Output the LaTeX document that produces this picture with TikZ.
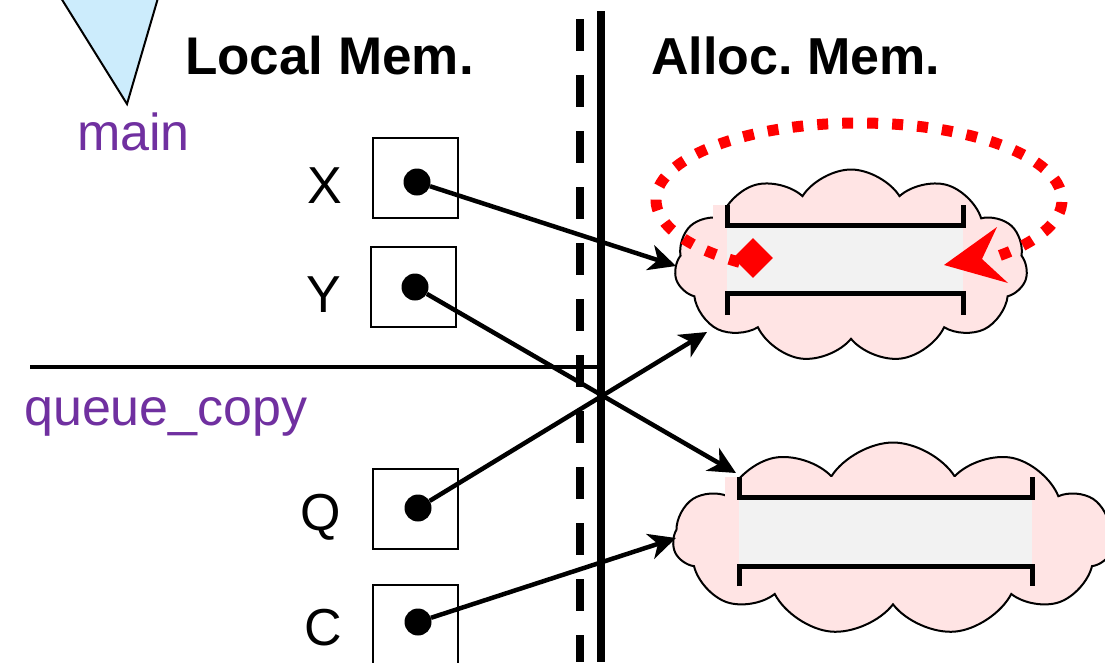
\documentclass[tikz,border=0pt]{standalone}
\usepackage{fontspec}
\setmainfont{Liberation Sans}
\usetikzlibrary{shapes.symbols,shapes.geometric,arrows.meta}
\definecolor{purp}{HTML}{7030A0}
\definecolor{pinkfill}{HTML}{FFE4E4}
\definecolor{grayfill}{HTML}{F2F2F2}
\definecolor{tri}{HTML}{CCECFC}
\frenchspacing
\tikzset{
  big/.style={font=\fontsize{52}{60}\selectfont},
  lbl/.style={big, inner sep=0pt, anchor=base west},
  varbox/.style={draw=black, line width=2pt, minimum width=85pt, minimum height=80pt, inner sep=0pt},
  ptr/.style={circle, fill=black, minimum size=27pt, inner sep=0pt},
  cloudy/.style={cloud, cloud puffs=11, cloud puff arc=115, draw=black, line width=2pt, fill=pinkfill, inner sep=0pt},
  link/.style={line width=4.5pt, -{Stealth[length=27pt,width=26pt,inset=8pt]}},
  bracket/.style={line width=5pt, line cap=butt},
}
\begin{document}
\begin{tikzpicture}[x=1pt,y=-1pt]
\useasboundingbox (0,0) rectangle (1105,662);
% triangle
\fill[tri] (62,-2) -- (127,104) -- (157,-2) -- cycle;
\draw[line width=2pt, line join=miter] (61,-2) -- (127,104) -- (158,-2);
\node[lbl, text=purp] (main) at (77,150) {main};
\node[lbl, text=purp] (qc) at (24,425) {queue\_copy};
\node[lbl, font=\fontsize{53}{60}\selectfont\bfseries] (lm) at (185,74) {Local Mem.};
\node[lbl, font=\fontsize{52}{60}\selectfont\bfseries] (am) at (651,74) {Alloc. Mem.};
% separators
\coordinate (hl1) at (30,367);
\coordinate (hl2) at (605,367);
\draw[line width=4.5pt] (hl1) -- (hl2);
\coordinate (dv1) at (580,19);
\coordinate (dv2) at (580,662);
\draw[line width=8pt, dash pattern=on 32pt off 24pt] (dv1) -- (dv2);
\coordinate (sv1) at (601,11);
\coordinate (sv2) at (601,662);
\draw[line width=8pt] (sv1) -- (sv2);
% variable boxes
\node[varbox] (bx) at (415,178) {};
\node[varbox] (by) at (413,287) {};
\node[varbox] (bq) at (415,509) {};
\node[varbox] (bc) at (415,625) {};
\node[big, inner sep=0pt, anchor=base] (lx) at (325,203) {X};
\node[big, inner sep=0pt, anchor=base] (ly) at (324,312) {Y};
\node[big, inner sep=0pt, anchor=base] (lq) at (321,530) {Q};
\node[big, inner sep=0pt, anchor=base] (lc) at (323,645) {C};
\node[ptr] (dx) at (417,182) {};
\node[ptr] (dy) at (415,287) {};
\node[ptr] (dq) at (418,508) {};
\node[ptr] (dc) at (418,622) {};
% clouds
\node[cloudy, minimum width=353pt, minimum height=193pt] (c1) at (851,266) {};
\node[cloudy, minimum width=440pt, minimum height=193pt] (c2) at (893,539) {};
% cloud 1 contents
\fill[pinkfill] (713,205) rectangle (966,315);
\fill[grayfill] (727,227) rectangle (963,291);
\draw[bracket] (727,205) -- (727,225) -- (963,225) -- (963,205);
\draw[bracket] (727,315) -- (727,293) -- (963,293) -- (963,315);
% cloud 2 contents
\fill[pinkfill] (725,477) rectangle (1035,587);
\fill[grayfill] (739,499) rectangle (1032,564);
\draw[bracket] (739,477) -- (739,497) -- (1032,497) -- (1032,477);
\draw[bracket] (739,586) -- (739,566) -- (1032,566) -- (1032,586);
% pointer links
\coordinate (tx) at (676,266);
\coordinate (ty) at (736,473);
\coordinate (tq) at (707,332);
\coordinate (tc) at (676,538);
\draw[link] (dx) -- (tx);
\draw[link] (dy) -- (ty);
\draw[link] (dq) -- (tq);
\draw[link] (dc) -- (tc);
% red cycle
\coordinate (ec) at (859,200);
\draw[red, line width=11pt, dash pattern=on 11pt off 14pt]
  ([shift={(126:203 and 77)}]ec) arc[start angle=126, end angle=408, x radius=203, y radius=77];
\fill[red] (944,265) -- (997,227) -- (982,259) -- (1008,283) -- cycle;
\node[diamond, fill=red, minimum width=40pt, minimum height=40pt, inner sep=0pt] (dm) at (753,258) {};
\end{tikzpicture}
\end{document}
